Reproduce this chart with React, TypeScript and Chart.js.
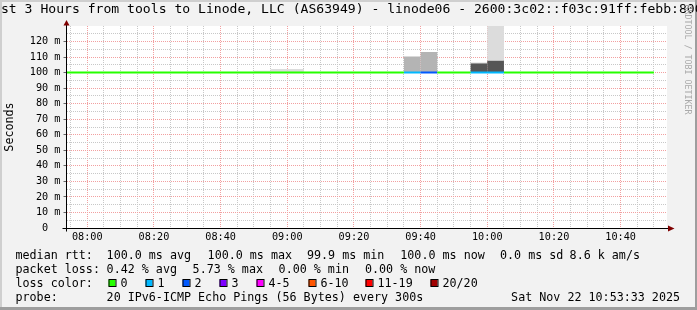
import React, { useEffect, useRef } from 'react';
import { Chart, registerables } from 'chart.js';

Chart.register(...registerables);

// ---------- data ----------
const TITLE = 'Last 3 Hours from tools to Linode, LLC (AS63949) - linode06 - 2600:3c02::f03c:91ff:febb:8000';
const WATERMARK = 'RRDTOOL / TOBI OETIKER';
const Y_TITLE = 'Seconds';

const X_START = '07:53:46';
const X_END = '10:53:46';
const X_TICK_LABELS = ['08:00', '08:20', '08:40', '09:00', '09:20', '09:40', '10:00', '10:20', '10:40'];
const Y_MAX = 130;

// median rtt (ms) per 5-minute step, step start times
const stepTimes = [
  '07:50', '07:55', '08:00', '08:05', '08:10', '08:15', '08:20', '08:25', '08:30', '08:35',
  '08:40', '08:45', '08:50', '08:55', '09:00', '09:05', '09:10', '09:15', '09:20', '09:25',
  '09:30', '09:35', '09:40', '09:45', '09:50', '09:55', '10:00', '10:05', '10:10', '10:15',
  '10:20', '10:25', '10:30', '10:35', '10:40', '10:45', '10:50',
];
const medianRtt = [
  100.0, 100.0, 100.0, 100.0, 100.0, 100.0, 100.0, 100.0, 100.0, 100.0,
  100.0, 100.0, 100.0, 100.0, 100.0, 100.0, 100.0, 100.0, 100.0, 100.0,
  100.0, 100.0, 100.0, 100.0, 100.0, 100.0, 100.0, 100.0, 100.0, 100.0,
  100.0, 100.0, 100.0, 100.0, 100.0, 100.0, 100.0,
];
const lostPings = [
  0, 0, 0, 0, 0, 0, 0, 0, 0, 0,
  0, 0, 0, 0, 0, 0, 0, 0, 0, 0,
  0, 1, 2, 0, 0, 1, 1, 0, 0, 0,
  0, 0, 0, 0, 0, 0, 0,
];

// smoke (ping spread) per 5-minute step, [low, high] in ms
const smokeTimes = ['08:50', '08:55', '09:00', '09:35', '09:40', '09:55', '10:00'];
const smokeDark: (number[] | null)[] = [null, null, null, null, null, [99.9, 105.8], [99.9, 107.7]];
const smokeMid: (number[] | null)[] = [null, null, null, [99.9, 110.3], [99.9, 113.3], [105.8, 106.4], null];
const smokeLight: (number[] | null)[] = [[99.9, 101.2], [99.9, 102.3], [99.9, 102.3], null, null, null, [107.7, 140]];

// legend
const medianStats = ['100.0 ms avg', '100.0 ms max', '99.9 ms min', '100.0 ms now', '0.0 ms sd', '8.6 k am/s'];
const lossStats = ['0.42 % avg', '5.73 % max', '0.00 % min', '0.00 % now'];
const lossLabels = ['0', '1', '2', '3', '4-5', '6-10', '11-19', '20/20'];
const lossColors = ['#26ff00', '#00b8ff', '#0059ff', '#7e00ff', '#ff00ff', '#ff5500', '#ff0000', '#a10000'];
const probeText = '20 IPv6-ICMP Echo Pings (56 Bytes) every 300s';
const timeStamp = 'Sat Nov 22 10:53:33 2025';

// ---------- helpers ----------
const toMin = (s: string) => {
  const p = s.split(':').map(Number);
  return p[0] * 60 + p[1] + (p[2] || 0) / 60;
};
const fmt = (v: number) => {
  const h = Math.floor(v / 60);
  const m = Math.round(v - h * 60);
  return String(h).padStart(2, '0') + ':' + String(m).padStart(2, '0');
};
const lossIndex = (n: number) => {
  if (n <= 0) return 0;
  if (n <= 3) return n;
  if (n <= 5) return 4;
  if (n <= 10) return 5;
  if (n <= 19) return 6;
  return 7;
};

const MONO = '"DejaVu Sans Mono", monospace';
const BACK = '#f2f2f2';
const SHADEA = '#cfcfcf';
const SHADEB = '#9e9e9e';
const GRID = '#c8c8c8';
const MGRID = '#f2a0a0';
const ARROW = '#7f0000';

const framePlugin = {
  id: 'rrdFrame',
  beforeDraw(chart: any) {
    const { ctx, width, height, chartArea: a } = chart;
    ctx.save();
    ctx.fillStyle = BACK;
    ctx.fillRect(0, 0, width, height);
    ctx.fillStyle = SHADEA;
    ctx.fillRect(0, 0, width, 2);
    ctx.fillRect(0, 0, 2, height);
    ctx.fillStyle = SHADEB;
    ctx.fillRect(width - 2, 0, 2, height);
    ctx.fillRect(0, height - 3, width, 3);
    ctx.fillStyle = '#ffffff';
    const l = Math.round(a.left), t = Math.round(a.top);
    ctx.fillRect(l, t, Math.round(a.right) - l, Math.round(a.bottom) - t);
    ctx.restore();
  },
  afterDraw(chart: any) {
    const { ctx, chartArea: a } = chart;
    ctx.save();
    // axis extensions + arrows
    const ax = Math.round(a.left - 0.5) + 0.5;
    const ay = Math.round(a.bottom) + 0.5;
    ctx.strokeStyle = '#000';
    ctx.lineWidth = 1;
    ctx.beginPath();
    ctx.moveTo(ax - 4, ay);
    ctx.lineTo(a.right + 3, ay);
    ctx.moveTo(ax, ay + 3);
    ctx.lineTo(ax, a.top - 2);
    ctx.stroke();
    ctx.fillStyle = ARROW;
    ctx.beginPath();
    ctx.moveTo(a.right + 1.5, ay - 3);
    ctx.lineTo(a.right + 8, ay);
    ctx.lineTo(a.right + 1.5, ay + 3);
    ctx.closePath();
    ctx.fill();
    ctx.beginPath();
    ctx.moveTo(ax - 3, a.top - 0.5);
    ctx.lineTo(ax, a.top - 6);
    ctx.lineTo(ax + 3, a.top - 0.5);
    ctx.closePath();
    ctx.fill();

    // title
    ctx.fillStyle = '#000';
    ctx.textBaseline = 'alphabetic';
    ctx.textAlign = 'left';
    ctx.font = `13.1px ${MONO}`;
    ctx.fillText(TITLE, -14.8, 12.5);

    // watermark
    ctx.save();
    ctx.translate(685, 4.5);
    ctx.rotate(Math.PI / 2);
    ctx.fillStyle = '#aaaaaa';
    ctx.font = `8.3px ${MONO}`;
    ctx.fillText(WATERMARK, 0, 0);
    ctx.restore();

    // legend
    ctx.font = `11.7px ${MONO}`;
    ctx.fillStyle = '#000';
    const rows = [259, 272.9, 286.8, 300.7];
    ctx.fillText('median rtt:', 15.5, rows[0]);
    const mx = [106.6, 207.6, 307, 400.3, 500, 569.6];
    medianStats.forEach((s, i) => ctx.fillText(s, mx[i], rows[0]));
    ctx.fillText('packet loss:', 15.5, rows[1]);
    const lx = [106.6, 192.6, 278.6, 365];
    lossStats.forEach((s, i) => ctx.fillText(s, lx[i], rows[1]));
    ctx.fillText('loss color:', 15.5, rows[2]);
    const bx = [108.5, 145.5, 182.5, 219.5, 256.5, 308.5, 365.5, 430.5];
    lossLabels.forEach((s, i) => {
      ctx.fillStyle = lossColors[i];
      ctx.fillRect(bx[i], 279.5, 7, 7);
      ctx.strokeStyle = '#000';
      ctx.strokeRect(bx[i] + 0.5, 279.5 + 0.5 - 0.5, 7, 7);
      ctx.fillStyle = '#000';
      ctx.fillText(s, bx[i] + 12, rows[2]);
    });
    ctx.fillText('probe:', 15.5, rows[3]);
    ctx.fillText(probeText, 106.6, rows[3]);
    ctx.textAlign = 'right';
    ctx.fillText(timeStamp, 680, rows[3]);
    ctx.restore();
  },
};

function buildConfig(): any {
  const xMin = toMin(X_START);
  const xMax = toMin(X_END);
  const xTickVals: number[] = [];
  for (let t = Math.ceil(xMin / 5) * 5; t <= xMax; t += 5) xTickVals.push(t);
  const yTickVals: number[] = [];
  for (let v = 0; v < Y_MAX; v += 5) yTickVals.push(v);

  const medianData = stepTimes.map((t, i) => ({ x: toMin(t), y: medianRtt[i] }));
  const smokeData = (arr: (number[] | null)[]) =>
    smokeTimes
      .map((t, i) => (arr[i] ? { x: toMin(t) + 2.5, y: arr[i] } : null))
      .filter(Boolean);

  const barCommon = {
    type: 'bar',
    grouped: false,
    barPercentage: 1,
    categoryPercentage: 1,
    borderWidth: 0,
    inflateAmount: 0,
  };

  return {
    type: 'bar',
    data: {
      datasets: [
        {
          type: 'line',
          label: 'median rtt',
          data: medianData,
          borderColor: lossColors[0],
          borderWidth: 2,
          pointRadius: 0,
          stepped: 'after',
          order: 0,
          segment: {
            borderColor: (c: any) => lossColors[lossIndex(lostPings[c.p0DataIndex])],
          },
        },
        { ...barCommon, label: 'smoke light', data: smokeData(smokeLight), backgroundColor: '#dcdcdc', order: 3 },
        { ...barCommon, label: 'smoke mid', data: smokeData(smokeMid), backgroundColor: '#b4b4b4', order: 2 },
        { ...barCommon, label: 'smoke dark', data: smokeData(smokeDark), backgroundColor: '#555555', order: 1 },
      ],
    },
    options: {
      responsive: false,
      animation: false,
      devicePixelRatio: 1,
      events: [],
      layout: { padding: { left: 0, right: 30.5, top: 26, bottom: 0 } },
      plugins: { legend: { display: false }, tooltip: { enabled: false }, title: { display: false } },
      scales: {
        x: {
          type: 'linear',
          min: xMin,
          max: xMax,
          offset: false,
          afterBuildTicks: (scale: any) => {
            scale.ticks = xTickVals.map((v) => ({ value: v }));
          },
          afterFit: (scale: any) => {
            scale.height = 82;
          },
          ticks: {
            autoSkip: false,
            maxRotation: 0,
            minRotation: 0,
            padding: 3,
            color: '#000',
            font: { family: MONO, size: 10.2 },
            callback: (v: number) => (X_TICK_LABELS.includes(fmt(v)) ? fmt(v) : ''),
          },
          grid: {
            offset: false,
            drawTicks: false,
            lineWidth: 1,
            color: (c: any) => (X_TICK_LABELS.includes(fmt(c.tick.value)) ? MGRID : GRID),
          },
          border: { display: true, color: '#000', width: 1, dash: [1, 1] },
        },
        y: {
          type: 'linear',
          min: 0,
          max: Y_MAX,
          afterBuildTicks: (scale: any) => {
            scale.ticks = yTickVals.map((v) => ({ value: v }));
          },
          afterFit: (scale: any) => {
            scale.width = 66.5;
          },
          ticks: {
            autoSkip: false,
            padding: 3,
            color: '#000',
            font: { family: MONO, size: 10.2 },
            callback: (v: number) => (v % 10 === 0 ? (v === 0 ? '0  ' : `${v} m`) : ''),
          },
          grid: {
            lineWidth: 1,
            tickLength: 3,
            color: (c: any) => (c.tick.value === 0 ? 'rgba(0,0,0,0)' : c.tick.value % 10 === 0 ? MGRID : GRID),
            tickColor: (c: any) => (c.tick.value % 10 === 0 ? '#666' : 'rgba(0,0,0,0)'),
          },
          border: { display: true, color: '#000', width: 1, dash: [1, 1] },
          title: {
            display: true,
            text: Y_TITLE,
            color: '#000',
            font: { family: MONO, size: 11.7 },
            padding: { top: 3, bottom: 0 },
          },
        },
      },
    },
    plugins: [framePlugin],
  };
}

export default function App() {
  const ref = useRef<HTMLCanvasElement>(null);
  useEffect(() => {
    if (!ref.current) return;
    const chart = new Chart(ref.current, buildConfig());
    return () => chart.destroy();
  }, []);
  return (
    <div style={{ position: 'fixed', left: 0, top: 0, width: 697, height: 310 }}>
      <canvas ref={ref} width={697} height={310} style={{ display: 'block', width: 697, height: 310 }} />
    </div>
  );
}
